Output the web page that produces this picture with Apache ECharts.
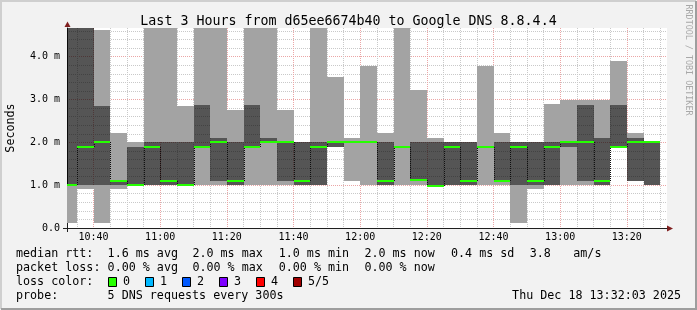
<!DOCTYPE html>
<html>
<head>
<meta charset="utf-8">
<script src="https://cdn.jsdelivr.net/npm/echarts@6/dist/echarts.min.js"></script>
<style>
html,body{margin:0;padding:0;background:#f2f2f2;}
#c{width:697px;height:310px;}
</style>
</head>
<body>
<div id="c"></div>
<script>
// ---- data (ms, 5 sorted DNS pings per 5-minute step, labelled by step end) ----
const startTime = '10:32:03';
const endTime = '13:32:03';
const stepMinutes = 5;
const times = ['10:35','10:40','10:45','10:50','10:55','11:00','11:05','11:10','11:15','11:20','11:25','11:30',
  '11:35','11:40','11:45','11:50','11:55','12:00','12:05','12:10','12:15','12:20','12:25','12:30',
  '12:35','12:40','12:45','12:50','12:55','13:00','13:05','13:10','13:15','13:20','13:25','13:30'];
const ping1 = [0.12,0.90,0.11,0.90,1.00,1.00,1.00,1.00,1.00,1.00,1.00,1.00,
  1.00,1.00,1.00,1.00,1.90,1.10,1.00,1.00,1.00,1.00,0.98,1.00,
  1.00,1.00,1.00,0.12,0.90,1.00,1.00,1.00,1.00,1.90,1.10,1.00];
const ping2 = [1.00,1.00,1.00,1.00,1.00,1.00,1.00,1.00,1.90,1.10,1.00,1.90,
  2.00,1.10,1.00,1.00,1.90,2.00,2.00,1.00,1.90,1.10,0.98,1.00,
  1.00,1.90,1.10,1.00,1.00,1.00,1.90,1.10,1.00,1.90,1.10,1.00];
const median = [1.00,1.90,2.00,1.10,1.00,1.90,1.10,1.00,1.90,2.00,1.10,1.90,
  2.00,2.00,1.10,1.90,2.00,2.00,2.00,1.10,1.90,1.12,0.98,1.90,
  1.10,1.90,1.10,1.90,1.10,1.90,2.00,2.00,1.10,1.90,2.00,2.00];
const ping4 = [5.10,4.90,2.84,1.10,1.90,2.00,2.00,2.00,2.88,2.09,2.00,2.88,
  2.09,2.00,2.00,2.00,2.00,2.00,2.00,2.00,1.90,2.00,2.00,2.00,
  2.00,1.90,2.00,2.00,2.00,2.00,2.00,2.88,2.09,2.88,2.09,2.00];
const ping5 = [6.20,5.80,4.63,2.22,2.00,5.40,4.90,2.84,5.20,5.00,2.75,5.60,
  4.80,2.75,2.00,5.30,3.53,2.09,3.78,2.22,4.70,3.22,2.09,2.00,
  2.00,3.78,2.22,2.00,2.00,2.89,3.00,3.00,3.00,3.89,2.22,2.00];
const xTickLabels = ['10:40','11:00','11:20','11:40','12:00','12:20','12:40','13:00','13:20'];
const yTicks = [0,1,2,3,4];
const yMax = 4.67;
const yMinorStep = 0.2;

// ---- helpers ----
function toMin(s){ const p = s.split(':').map(Number); return p[0]*60 + p[1] + (p[2]||0)/60; }
function fmtHM(v){ const h = Math.floor(v/60 + 1e-6); const m = Math.round(v - h*60); return h + ':' + (m<10?'0':'') + m; }
const xMin = toMin(startTime), xMax = toMin(endTime);
const xMajor = xTickLabels.map(toMin);
const xMinor = [];
for (let t = Math.ceil(xMin/stepMinutes)*stepMinutes; t < xMax; t += stepMinutes) {
  if (xMajor.indexOf(t) < 0) xMinor.push(t);
}
const yMinor = [];
for (let k = 1; k*yMinorStep < yMax; k++) {
  const v = +(k*yMinorStep).toFixed(2);
  if (Math.abs(v - Math.round(v)) > 1e-6) yMinor.push(v);
}
const seriesData = times.map((t,i) => [toMin(t), ping1[i], ping2[i], median[i], ping4[i], ping5[i], i>0 ? median[i-1] : median[i]]);

const MONO = 'DejaVu Sans Mono';
const LIGHT = '#a3a3a3';
const DARK = 'rgba(0,0,0,0.665)';
const GREEN = '#26ff00';
const GRID_L = 67, GRID_T = 28, GRID_W = 600, GRID_H = 200;

function renderItem(params, api){
  const cs = params.coordSys;
  const tEnd = api.value(0);
  let xl = api.coord([tEnd - stepMinutes, 0])[0];
  let xr = api.coord([tEnd, 0])[0];
  xl = Math.round(Math.max(xl, cs.x));
  xr = Math.round(Math.min(xr, cs.x + cs.width));
  const top = cs.y, bot = cs.y + cs.height;
  const Y = v => Math.round(Math.max(top, Math.min(bot, api.coord([tEnd, v])[1])));
  const y1 = Y(api.value(1)), y2 = Y(api.value(2)), ym = Y(api.value(3)), y4 = Y(api.value(4)), y5 = Y(api.value(5));
  const yp = Y(api.value(6));
  const w = xr - xl;
  const ch = [
    {type:'rect', shape:{x:xl, y:y2, width:w, height:y1-y2}, style:{fill:LIGHT}},
    {type:'rect', shape:{x:xl, y:y5, width:w, height:y4-y5}, style:{fill:LIGHT}},
    {type:'rect', shape:{x:xl, y:y4, width:w, height:y2-y4}, style:{fill:DARK}}
  ];
  if (params.dataIndex > 0 && yp !== ym) {
    ch.push({type:'line', shape:{x1:xl+0.5, y1:yp, x2:xl+0.5, y2:ym}, style:{stroke:'#101010', lineWidth:1, lineDash:[1,1]}});
  }
  ch.push({type:'rect', shape:{x:xl, y:ym-1, width:w, height:2}, style:{fill:GREEN}});
  return {type:'group', children: ch};
}

const chart = echarts.init(document.getElementById('c'), null, {renderer:'canvas'});

const legendFont = {fontFamily: MONO, fontSize: 11.7, fill: '#000'};
function txt(text, x, y, align){
  return {type:'text', x: x, y: y, silent:true,
    style: Object.assign({text: text, align: align||'left', verticalAlign:'middle',
      textAlign: align||'left', textVerticalAlign:'middle'}, legendFont)};
}
const lossColors = ['#26ff00','#00b8ff','#0059ff','#7e00ff','#ff0000','#a10000'];
const lossLabels = ['0','1','2','3','4','5/5'];
const graphics = [
  // frame
  {type:'polyline', silent:true, shape:{points:[[1,309],[1,1],[696,1]]}, style:{stroke:'#cfcfcf', lineWidth:2, fill:null}},
  {type:'polyline', silent:true, shape:{points:[[1,309],[696,309],[696,1]]}, style:{stroke:'#9e9e9e', lineWidth:2, fill:null}},
  // axis overhangs and arrows
  {type:'line', silent:true, shape:{x1:63, y1:228.5, x2:67, y2:228.5}, style:{stroke:'#1f1f1f', lineWidth:1}},
  {type:'line', silent:true, shape:{x1:67.5, y1:228, x2:67.5, y2:232}, style:{stroke:'#1f1f1f', lineWidth:1}},
  {type:'polygon', silent:true, shape:{points:[[64.5,27],[70.5,27],[67.5,21.5]]}, style:{fill:'#801f1f'}},
  {type:'polygon', silent:true, shape:{points:[[667,225.5],[667,231.5],[673,228.5]]}, style:{fill:'#801f1f'}},
  // watermark
  {type:'text', x:688, y:60, rotation:-Math.PI/2, silent:true,
    style:{text:'RRDTOOL / TOBI OETIKER', fontFamily:MONO, fontSize:8.4, fill:'#a8a8a8',
      align:'center', verticalAlign:'middle', textAlign:'center', textVerticalAlign:'middle'}},
  // legend rows
  txt('median rtt:', 16, 254), txt('1.6 ms avg', 107.6, 254), txt('2.0 ms max', 192.4, 254),
  txt('1.0 ms min', 278.7, 254), txt('2.0 ms now', 364.4, 254), txt('0.4 ms sd', 451, 254),
  txt('3.8', 529.8, 254), txt('am/s', 573.3, 254),
  txt('packet loss:', 16, 268), txt('0.00 % avg', 107.6, 268), txt('0.00 % max', 192.4, 268),
  txt('0.00 % min', 278.7, 268), txt('0.00 % now', 364.4, 268),
  txt('loss color:', 16, 282),
  txt('probe:', 16, 296), txt('5 DNS requests every 300s', 107.6, 296),
  txt('Thu Dec 18 13:32:03 2025', 681, 296, 'right')
];
lossColors.forEach((c, i) => {
  const bx = 108 + i*37;
  graphics.push({type:'rect', silent:true, shape:{x:bx+0.5, y:277.5, width:8, height:9}, style:{fill:c, stroke:'#000', lineWidth:1}});
  graphics.push(txt(lossLabels[i], bx + 15, 282));
});

const option = {
  backgroundColor: '#f2f2f2',
  animation: false,
  title: {
    text: 'Last 3 Hours from d65ee6674b40 to Google DNS 8.8.4.4',
    left: 'center', top: 9,
    textStyle: {fontFamily: MONO, fontSize: 13.3, fontWeight: 'normal', color: '#000', lineHeight: 15}
  },
  grid: {left: GRID_L, top: GRID_T, width: GRID_W, height: GRID_H, show: true, backgroundColor: '#ffffff', borderWidth: 0,
    containLabel: false, outerBoundsMode: 'none'},
  xAxis: [
    {
      type: 'value', min: xMin, max: xMax, position: 'bottom',
      axisLine: {show: true, onZero: false, lineStyle: {color: '#1f1f1f', width: 1}},
      axisTick: {show: false, customValues: xMajor},
      axisLabel: {show: true, customValues: xMajor, formatter: fmtHM, margin: 4,
        fontFamily: MONO, fontSize: 10, color: '#000'},
      splitLine: {show: true, lineStyle: {color: '#eba6a6', width: 1, type: [1,1]}}
    },
    {
      type: 'value', min: xMin, max: xMax, position: 'top',
      axisLine: {show: false}, axisLabel: {show: false},
      axisTick: {show: false, customValues: xMinor},
      splitLine: {show: true, lineStyle: {color: '#c9c9c9', width: 1, type: [1,1]}}
    }
  ],
  yAxis: [
    {
      type: 'value', min: 0, max: yMax, position: 'left',
      name: 'Seconds', nameLocation: 'middle', nameRotate: 90, nameGap: 50,
      nameTextStyle: {fontFamily: MONO, fontSize: 11.7, color: '#000'},
      axisLine: {show: true, onZero: false, lineStyle: {color: '#1f1f1f', width: 1}},
      axisTick: {show: false, customValues: yTicks},
      axisLabel: {show: true, customValues: yTicks, margin: 7,
        formatter: v => v === 0 ? '0.0' : v.toFixed(1) + ' m',
        fontFamily: MONO, fontSize: 10, color: '#000'},
      splitLine: {show: true, lineStyle: {color: '#eba6a6', width: 1, type: [1,1]}}
    },
    {
      type: 'value', min: 0, max: yMax, position: 'right',
      axisLine: {show: false}, axisLabel: {show: false},
      axisTick: {show: false, customValues: yMinor},
      splitLine: {show: true, lineStyle: {color: '#c9c9c9', width: 1, type: [1,1]}}
    }
  ],
  series: [{
    type: 'custom',
    xAxisIndex: 0, yAxisIndex: 0,
    renderItem: renderItem,
    encode: {x: 0, y: 3},
    data: seriesData,
    silent: true
  }],
  graphic: graphics
};
chart.setOption(option);
</script>
</body>
</html>
